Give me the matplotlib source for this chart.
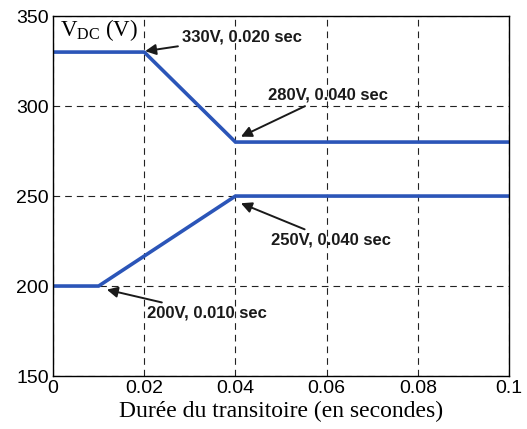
import matplotlib
matplotlib.use("Agg")
import matplotlib.pyplot as plt

# tension DC pendant le transitoire
t_haut = [0, 0.02, 0.04, 0.1]
v_haut = [330, 330, 280, 280]
t_bas = [0, 0.01, 0.04, 0.1]
v_bas = [200, 200, 250, 250]

xticks = [0, 0.02, 0.04, 0.06, 0.08, 0.1]
xtick_labels = ["0", "0.02", "0.04", "0.06", "0.08", "0.1"]
yticks = [150, 200, 250, 300, 350]

# (texte, point visé, position du texte)
notes = [
    ("330V, 0.020 sec", (0.0202, 330.5), (0.0283, 338.5)),
    ("280V, 0.040 sec", (0.0412, 283), (0.0471, 306)),
    ("250V, 0.040 sec", (0.0412, 246), (0.0478, 225.5)),
    ("200V, 0.010 sec", (0.0118, 198), (0.0207, 185)),
]

plt.rcParams["mathtext.fontset"] = "custom"
plt.rcParams["mathtext.rm"] = "Liberation Serif"

fig = plt.figure(figsize=(5.27, 4.29), dpi=100)
ax = fig.add_axes([0.1006, 0.1235, 0.8654, 0.839])

blue = "#2b55b8"
ax.plot(t_haut, v_haut, color=blue, lw=2.6, solid_joinstyle="miter")
ax.plot(t_bas, v_bas, color=blue, lw=2.6, solid_joinstyle="miter")

ax.set_xlim(0, 0.1)
ax.set_ylim(150, 350)
ax.set_xticks(xticks)
ax.set_xticklabels(xtick_labels)
ax.set_yticks(yticks)
ax.tick_params(labelsize=14, length=0, pad=3, labelfontfamily="Liberation Sans")
ax.grid(True, color="#222222", ls=(0, (6, 4.5)), lw=0.8)
for s in ax.spines.values():
    s.set_linewidth(1.0)

ax.set_xlabel("Durée du transitoire (en secondes)", family="Liberation Serif",
              fontsize=17, labelpad=3)
ax.text(0.0016, 342.5, r"V$_{\rm DC}$ (V)", family="Liberation Serif", fontsize=16.5,
        va="center", ha="left")

for txt, pt, pos in notes:
    ax.annotate(txt, xy=pt, xytext=pos, fontsize=12, fontweight="bold",
                family="Liberation Sans", va="center", ha="left", color="#1a1a1a",
                arrowprops=dict(arrowstyle="-|>", color="#1a1a1a", lw=1.4,
                                mutation_scale=16, shrinkA=1, shrinkB=0))

fig.savefig("out.png", dpi=100)
